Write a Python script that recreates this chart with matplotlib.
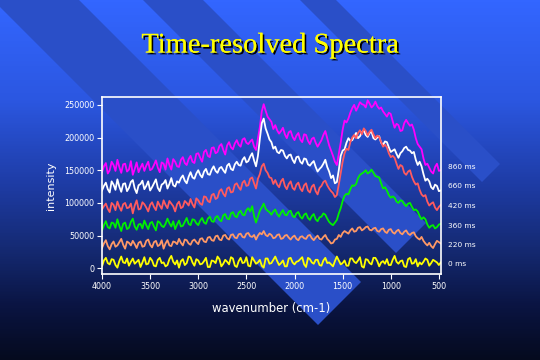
import numpy as np
import matplotlib
matplotlib.use("Agg")
import matplotlib.pyplot as plt
from matplotlib.patches import Polygon
import matplotlib.patheffects as pe
from matplotlib.colors import LinearSegmentedColormap

# ---------------- data (intensity in thousands of counts) ----------------
wavenumber = np.arange(4000, 479, -20)   # 4000 ... 480 cm-1, 177 points

s860 = [147,156,161,145,150,163,158,149,166,155,
        146,159,160,148,151,164,143,152,162,147,
        154,160,149,157,163,150,152,158,165,154,
        147,162,160,151,168,158,151,167,163,156,
        155,166,170,161,158,167,172,163,161,175,
        176,169,163,178,181,172,170,184,185,176,
        178,187,190,181,174,188,193,185,182,191,
        196,189,186,197,199,192,190,194,197,186,
        181,199,216,240,251,241,232,228,224,213,
        219,211,206,210,215,205,199,208,210,201,
        196,203,207,197,193,205,204,195,190,198,
        200,192,186,191,196,204,210,199,188,180,
        172,163,158,175,192,212,226,223,229,238,
        245,250,241,247,254,251,250,246,257,252,
        246,249,255,248,244,246,240,236,232,238,
        236,225,215,221,219,210,211,222,227,222,
        218,220,212,199,190,186,182,168,158,160,
        154,148,145,155,160,149,150]

s660 = [119,126,131,121,116,133,128,120,136,125,
        117,129,130,118,123,132,135,122,115,127,
        129,134,121,126,133,119,124,130,136,123,
        118,128,130,135,122,129,138,127,125,133,
        131,138,142,134,130,140,147,139,137,145,
        150,143,139,148,152,144,143,151,156,149,
        146,153,155,150,146,157,160,152,150,159,
        163,158,157,166,170,162,164,171,176,165,
        156,172,198,222,229,214,206,197,193,183,
        186,178,176,181,180,172,168,173,174,166,
        161,170,171,163,160,168,167,159,157,161,
        164,155,148,152,155,160,166,155,148,138,
        142,130,132,150,172,180,182,192,199,195,
        196,202,207,199,202,208,211,204,201,207,
        209,199,197,200,202,192,189,194,193,185,
        178,180,182,175,169,176,179,184,186,181,
        180,176,178,166,158,163,156,144,134,137,
        133,124,121,128,126,118,119]

s420 = [90,95,99,91,86,100,97,89,102,94,
        88,98,100,92,93,99,84,96,104,90,
        91,101,98,93,87,97,101,94,89,102,
        96,91,104,97,92,103,99,95,87,98,
        102,92,94,103,100,96,106,98,93,107,
        104,99,97,110,109,103,101,112,114,106,
        108,118,121,114,110,122,124,116,117,128,
        130,124,120,131,134,126,127,137,139,130,
        122,137,144,156,160,150,146,139,138,129,
        135,128,124,133,137,126,121,129,133,123,
        120,128,131,122,118,127,130,119,116,125,
        128,118,113,123,126,132,134,127,122,118,
        115,109,112,128,146,163,176,183,181,193,
        200,204,199,207,211,205,214,210,203,209,
        212,205,199,203,201,193,186,189,185,176,
        170,172,169,160,152,158,156,146,143,148,
        150,140,133,128,130,120,113,110,112,102,
        96,99,101,93,89,94,97]

s360 = [58,66,72,63,61,70,69,62,75,65,
        57,68,70,60,62,71,76,64,59,67,
        68,61,73,66,60,69,71,64,58,72,
        70,65,63,68,76,69,64,72,60,67,
        73,64,65,71,77,68,66,75,74,69,
        66,73,77,70,68,76,79,72,71,78,
        80,74,72,81,83,76,75,84,86,80,
        78,85,88,82,81,89,92,87,95,80,
        70,79,88,93,99,91,88,86,82,87,
        90,83,79,85,89,82,81,87,88,80,
        78,84,86,79,76,82,84,77,74,80,
        83,75,72,78,79,84,82,76,71,68,
        66,70,74,84,92,103,111,114,113,121,
        127,126,129,138,143,145,147,150,145,147,
        151,146,141,140,139,130,122,124,119,112,
        108,110,108,102,100,104,103,98,95,99,
        100,94,89,90,87,80,75,78,75,67,
        62,65,66,61,63,67,68]

s220 = [31,38,43,34,29,37,41,33,35,40,
        45,36,30,41,39,35,42,37,31,39,
        41,33,34,42,44,36,32,40,42,34,
        36,43,30,38,43,35,34,41,40,37,
        45,39,35,44,43,38,36,42,44,40,
        37,45,46,41,40,47,48,43,42,49,
        50,44,43,50,51,46,44,51,52,47,
        46,52,53,48,47,53,54,49,48,51,
        44,50,54,52,57,51,49,53,51,46,
        47,51,52,45,46,50,51,47,44,48,
        50,45,43,48,49,46,45,50,51,46,
        43,47,50,45,44,48,51,45,42,38,
        39,44,45,51,48,54,57,55,53,58,
        61,56,57,62,63,58,60,63,64,59,
        58,61,62,57,56,60,61,56,54,59,
        60,55,53,57,59,54,52,56,58,53,
        51,54,55,49,46,44,48,42,38,35,
        39,34,31,37,42,40,38]

s0 = [3,12,16,8,6,14,13,5,1,11,
      18,9,8,15,4,10,15,7,10,13,
      2,9,17,6,7,16,12,4,3,13,
      16,8,9,3,5,14,19,10,6,12,
      1,11,14,5,8,18,17,9,4,14,
      12,6,7,11,16,2,2,12,11,8,
      18,14,3,7,13,10,6,17,15,4,
      2,11,16,8,9,17,4,3,17,12,
      7,9,13,4,1,15,15,7,8,13,
      18,11,5,8,12,3,3,15,16,9,
      6,10,11,14,17,6,2,16,14,9,
      7,13,13,5,4,12,16,8,9,6,
      3,11,18,12,6,8,12,4,4,15,
      15,10,8,12,17,3,1,14,13,8,
      6,16,16,11,3,9,11,7,14,5,
      5,13,19,10,7,11,12,3,2,14,
      16,7,8,14,3,9,6,10,15,13,
      4,8,13,11,9,5,9]

series = [s860, s660, s420, s360, s220, s0]
series_labels = ["860 ms", "660 ms", "420 ms", "360 ms", "220 ms", "0 ms"]
label_levels = [155, 126, 95, 65, 36, 7]   # thousands, where the labels sit
colors = ["#ff00ff", "#ffffff", "#ff5a5f", "#00f000", "#ff9966", "#ffff00"]

yticks = [0, 50000, 100000, 150000, 200000, 250000]
xticks = [4000, 3500, 3000, 2500, 2000, 1500, 1000, 500]

# ---------------- figure & background ----------------
W, H = 540, 360
fig = plt.figure(figsize=(5.4, 3.6), dpi=100)

bg = fig.add_axes([0, 0, 1, 1])
bg.set_xlim(0, W)
bg.set_ylim(H, 0)
bg.axis("off")
cmap = LinearSegmentedColormap.from_list("bg", [
    (0.00, (0.20, 0.40, 1.00)),
    (0.28, (0.17, 0.34, 0.88)),
    (0.50, (0.12, 0.24, 0.66)),
    (0.70, (0.08, 0.16, 0.44)),
    (0.85, (0.04, 0.08, 0.26)),
    (1.00, (0.02, 0.04, 0.12)),
])
grad = np.linspace(0, 1, 360).reshape(-1, 1)
bg.imshow(grad, cmap=cmap, extent=[0, W, H, 0], aspect="auto", zorder=0)

band_color = "#2a4fc8"
# (upper edge offset, lower edge offset, end x+y) for bands y = x + c
bands = [(-79, 7, 643), (-203, -143, 649), (-336, -300, 664)]
for c_lo, c_hi, s in bands:
    far = -1200
    pts = [((far - c_lo) / 2, (far + c_lo) / 2),
           ((s - c_lo) / 2, (s + c_lo) / 2),
           ((s - c_hi) / 2, (s + c_hi) / 2),
           ((far - c_hi) / 2, (far + c_hi) / 2)]
    bg.add_patch(Polygon(pts, closed=True, facecolor=band_color,
                         edgecolor="none", zorder=1))

# title
bg.text(270, 46, "Time-resolved Spectra", ha="center", va="center",
        fontsize=20.5, family="Liberation Serif", color="#ffff00", zorder=5,
        path_effects=[pe.withSimplePatchShadow(offset=(1.3, -1.3),
                                               shadow_rgbFace="black",
                                               alpha=1.0),
                      pe.Normal()])

# ---------------- main axes ----------------
ax = fig.add_axes([102 / W, 1 - 274 / H, (441 - 102) / W, (274 - 97) / H])
ax.patch.set_alpha(0)

for vals, col in zip(series, colors):
    ax.plot(wavenumber, np.asarray(vals) * 1000, color=col, lw=1.3)

ax.set_xlim(4000, 478)
ax.set_ylim(-8700, 262000)
ax.set_xticks(xticks)
ax.set_xticklabels([str(t) for t in xticks])
ax.set_yticks(yticks)
ax.set_yticklabels([str(t) for t in yticks])

for sp in ax.spines.values():
    sp.set_color("white")
    sp.set_linewidth(1.2)

ax.tick_params(axis="both", colors="white", labelcolor="white",
               labelsize=5.8, length=3.5, width=0.8, direction="out",
               pad=2)
ax.tick_params(top=False, right=False)

ax.set_ylabel("intensity", color="white", fontsize=8, labelpad=6)
ax.set_xlabel("wavenumber (cm-1)", color="white", fontsize=8.4, labelpad=8)

for lab, lev in zip(series_labels, label_levels):
    ax.annotate(lab, xy=(1.0, lev * 1000), xycoords=("axes fraction", "data"),
                xytext=(5, 0), textcoords="offset points",
                ha="left", va="center", color="white", fontsize=5.3)

fig.savefig("out.png", dpi=100)
